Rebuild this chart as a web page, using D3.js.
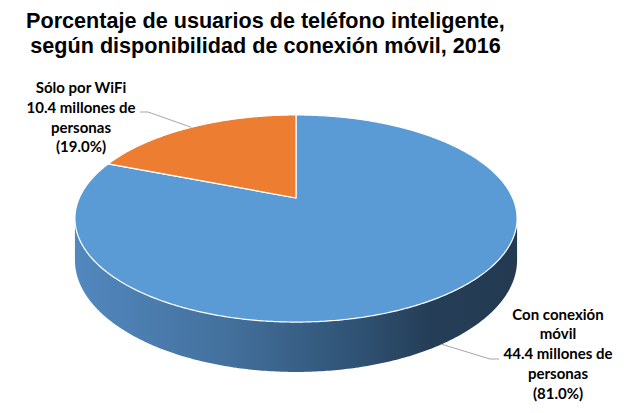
<!DOCTYPE html>
<html>
<head>
<meta charset="utf-8">
<script src="https://cdn.jsdelivr.net/npm/d3@7"></script>
<style>
  html, body { margin: 0; padding: 0; background: #ffffff; }
  #chart { position: relative; width: 627px; height: 413px; }
  svg { display: block; position: absolute; left: 0; top: 0; }
  #title {
    position: absolute; left: 0; top: 9.4px; width: 531px; text-align: center;
    font-family: 'Liberation Sans', Arial, sans-serif; font-weight: bold;
    font-size: 21.6px; line-height: 24.3px; color: #000; white-space: nowrap;
  }
</style>
</head>
<body>
<div id="chart"></div>
<script>
// ---- data ----
const titleLines = ["Porcentaje de usuarios de teléfono inteligente,", "según disponibilidad de conexión móvil, 2016"];
const categories = ["Con conexión móvil", "Sólo por WiFi"];
const categoryLines = [["Con conexión", "móvil"], ["Sólo por WiFi"]];
const millions = [44.4, 10.4];
const percents = [81.0, 19.0];

// ---- style / layout ----
const W = 627, H = 413;
const topColors = ["#5b9bd5", "#ed7d31"];
const wallStops = [
  [["0%", "#5288bf"], ["35%", "#43709c"], ["65%", "#2f5172"], ["80%", "#253e57"], ["100%", "#233a51"]],
  [["0%", "#c96a29"], ["100%", "#7a3f18"]]
];
const cx = 296, cy = 198;      // projected pie centre
const A = 99.5, B = 0.198, C = 216.7, T = 40; // perspective parameters
const labelLayout = [
  { x: 558, y: 319.5, elbow: [490, 359], end: [499, 359], anchorDepth: 1 },
  { x: 81, y: 93, elbow: [148, 112], end: [140, 112], anchorDepth: 0 }
];
const lineH = 19.8;

const root = d3.select("#chart");
const svg = root.append("svg").attr("width", W).attr("height", H);
svg.append("rect").attr("width", W).attr("height", H).attr("fill", "#fff");

function proj(theta, r = 1, dz = 0) {
  const s = Math.sin(theta) * r, c = Math.cos(theta) * r;
  const w = 1 + B * c;
  return [cx + C * s / w, cy - A * c / w + T * dz / w];
}

const arcs = d3.pie().sort(null).value(d => d)(percents);
const line = d3.line();
const defs = svg.append("defs");
wallStops.forEach((stops, i) => {
  const g = defs.append("linearGradient").attr("id", "wall" + i)
    .attr("gradientUnits", "userSpaceOnUse")
    .attr("x1", cx - C * 1.02).attr("x2", cx + C * 1.02).attr("y1", 0).attr("y2", 0);
  stops.forEach(s => g.append("stop").attr("offset", s[0]).attr("stop-color", s[1]));
});

function sample(a0, a1) {
  const n = Math.max(2, Math.ceil((a1 - a0) / 0.01));
  return d3.range(n + 1).map(k => a0 + (a1 - a0) * k / n);
}

// side walls (visible front part)
const thA = Math.acos(-B), thB = 2 * Math.PI - thA;
arcs.forEach((d, i) => {
  const s = Math.max(d.startAngle, thA), e = Math.min(d.endAngle, thB);
  if (s >= e) return;
  const ang = sample(s, e);
  const pts = ang.map(t => proj(t, 1, 0)).concat(ang.slice().reverse().map(t => proj(t, 1, 1)));
  svg.append("path").attr("d", line(pts) + "Z").attr("fill", `url(#wall${i})`);
});

// top faces
arcs.forEach((d, i) => {
  const pts = [proj(0, 0)].concat(sample(d.startAngle, d.endAngle).map(t => proj(t)));
  svg.append("path").attr("d", line(pts) + "Z")
    .attr("fill", topColors[i])
    .attr("stroke", "#ffffff").attr("stroke-width", 1.2).attr("stroke-linejoin", "round");
});

// leader lines
arcs.forEach((d, i) => {
  const mid = (d.startAngle + d.endAngle) / 2;
  const L = labelLayout[i];
  const p = proj(mid, 1, L.anchorDepth);
  svg.append("path").attr("d", line([p, L.elbow, L.end]))
    .attr("fill", "none").attr("stroke", "#a6a6a6").attr("stroke-width", 1);
});

// labels
arcs.forEach((d, i) => {
  const L = labelLayout[i];
  const lines = categoryLines[i].concat([
    d3.format(".1f")(millions[i]) + " millones de",
    "personas",
    "(" + d3.format(".1f")(percents[i]) + "%)"
  ]);
  const t = svg.append("text").attr("text-anchor", "middle")
    .attr("font-family", "Lato, 'Open Sans', sans-serif").attr("font-weight", "bold")
    .attr("font-size", 15).attr("fill", "#000");
  lines.forEach((s, k) => t.append("tspan").attr("x", L.x).attr("y", L.y + k * lineH).text(s));
});

// title (single HTML block, two lines)
const title = root.append("div").attr("id", "title");
titleLines.forEach((s, k) => {
  if (k > 0) title.append("br");
  title.append("span").text(s);
});
</script>
</body>
</html>
